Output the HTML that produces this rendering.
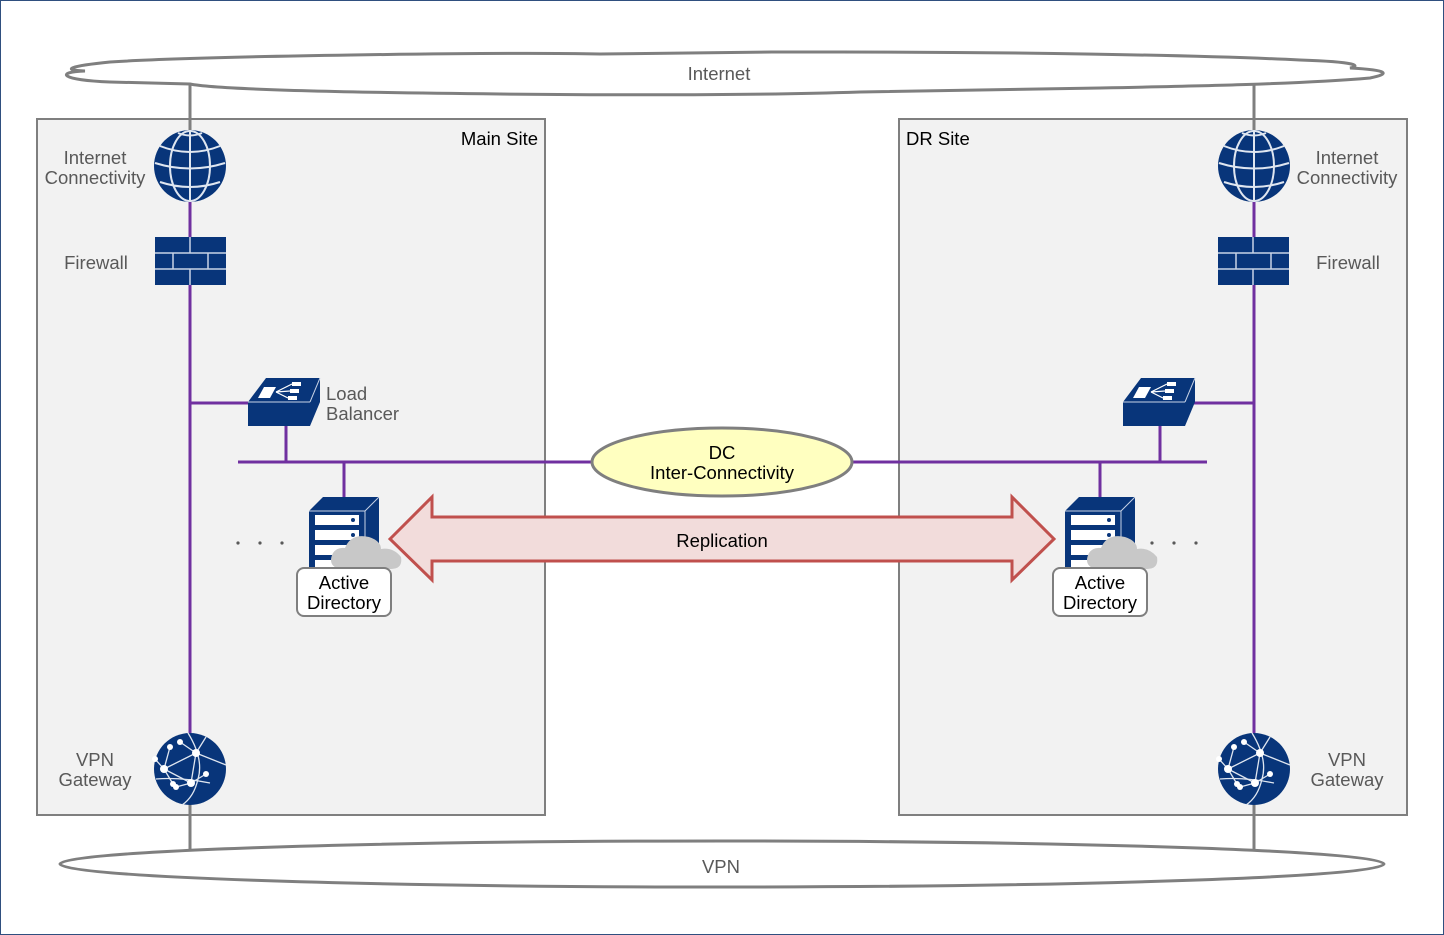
<!DOCTYPE html>
<html><head><meta charset="utf-8"><style>
html,body{margin:0;padding:0;background:#fff}
svg{display:block}
text{font-family:"Liberation Sans",sans-serif}
</style></head><body>
<svg width="1444" height="935" viewBox="0 0 1444 935" xmlns="http://www.w3.org/2000/svg">
<defs>
<g id="globe">
<circle r="36" fill="#08357a"/>
<g fill="none" stroke="#dfe6f0" stroke-width="2">
<line x1="0" y1="-36" x2="0" y2="36"/>
<ellipse rx="20" ry="35"/>
<path d="M-30,-20 Q0,-8 30,-20"/>
<path d="M-35,-3 Q0,8 35,-3"/>
<path d="M-30,16 Q0,26 30,16"/>
<path d="M-12,-33 Q0,-28 12,-33"/>
</g>
</g>
<g id="fw">
<rect x="0" y="0" width="71" height="48" fill="#08357a"/>
<g stroke="#c8d3e6" stroke-width="1.5">
<line x1="0" y1="16" x2="71" y2="16"/><line x1="0" y1="32" x2="71" y2="32"/>
<line x1="35" y1="0" x2="35" y2="16"/><line x1="18" y1="16" x2="18" y2="32"/><line x1="53" y1="16" x2="53" y2="32"/><line x1="35" y1="32" x2="35" y2="48"/>
</g>
</g>
<g id="lb">
<polygon points="18,0 72,0 72,24 62,48 0,48 0,24" fill="#08357a"/>
<line x1="0" y1="24" x2="62" y2="24" stroke="#c8d3e6" stroke-width="1"/>
<line x1="62" y1="24" x2="72" y2="0" stroke="#c8d3e6" stroke-width="1"/>
<polygon points="10,20 16,9 28,9 22,20" fill="#fff"/>
<g stroke="#fff" stroke-width="1.2"><line x1="28" y1="14" x2="44" y2="6"/><line x1="28" y1="14" x2="42" y2="13"/><line x1="28" y1="14" x2="40" y2="20"/></g>
<g fill="#fff"><rect x="44" y="4" width="9" height="4"/><rect x="42" y="11" width="9" height="4"/><rect x="40" y="18" width="9" height="4"/></g>
</g>
<g id="srv">
<polygon points="0,14 14,0 70,0 70,64 56,78 0,78" fill="#08357a"/>
<line x1="56" y1="14" x2="70" y2="0" stroke="#c8d3e6"/>
<line x1="56" y1="14" x2="56" y2="78" stroke="#c8d3e6"/>
<line x1="0" y1="14" x2="56" y2="14" stroke="#c8d3e6"/>
<g fill="#fff"><rect x="6" y="18" width="44" height="10"/><rect x="6" y="33" width="44" height="10"/><rect x="6" y="48" width="44" height="10"/><rect x="6" y="63" width="44" height="10"/></g>
<g fill="#08357a"><circle cx="44" cy="23" r="2"/><circle cx="44" cy="38" r="2"/><circle cx="44" cy="53" r="2"/></g>
<path d="M30,72 Q18,68 24,56 Q28,50 36,51 Q42,36 60,40 Q72,44 72,52 Q84,50 92,60 Q94,72 82,72 Z" fill="#c8c8c8"/>
</g>
<g id="vpn">
<circle r="36" fill="#08357a"/>
<g stroke="#dfe6f0" stroke-width="1.3" fill="none">
<line x1="-35" y1="-10" x2="-26" y2="0"/><line x1="-26" y1="0" x2="-20" y2="-22"/><line x1="-26" y1="0" x2="-17" y2="15"/>
<line x1="-26" y1="0" x2="6" y2="-16"/><line x1="-26" y1="0" x2="1" y2="14"/><line x1="-10" y1="-27" x2="6" y2="-16"/>
<line x1="6" y1="-16" x2="1" y2="14"/><line x1="1" y1="14" x2="16" y2="5"/><line x1="1" y1="14" x2="-14" y2="18"/>
<line x1="6" y1="-16" x2="36" y2="-4"/><line x1="6" y1="-16" x2="16" y2="-32"/><path d="M-2,-36 Q14,-10 8,10 Q4,28 -8,36"/>
<path d="M-34,10 Q-10,8 20,14"/>
</g>
<g fill="#fff"><circle cx="-26" cy="0" r="4"/><circle cx="6" cy="-16" r="4"/><circle cx="1" cy="14" r="4"/><circle cx="-20" cy="-22" r="3"/><circle cx="-10" cy="-27" r="3"/><circle cx="-17" cy="15" r="3"/><circle cx="16" cy="5" r="3"/><circle cx="-14" cy="18" r="3"/><circle cx="-35" cy="-10" r="3"/></g>
</g>
</defs>
<rect x="0.5" y="0.5" width="1443" height="934" fill="#fff" stroke="#2f4f7f" stroke-width="1"/>
<path d="M190,84 L110,82 C60,80 55,72 85,71 C60,70 70,66 110,62 C200,56 500,52 600,54 L772,52 L840,52 C1000,52 1200,55 1300,60 C1360,62 1360,66 1350,68 C1390,70 1390,74 1370,78 C1300,84 1200,86 1100,88 L860,92 C800,94 700,96 500,94 C300,92 210,88 190,84 Z" fill="#fff" stroke="#7f7f7f" stroke-width="3"/>
<text x="719" y="80" font-size="18.5" fill="#595959" text-anchor="middle">Internet</text>
<ellipse cx="722" cy="864" rx="662" ry="23" fill="#fff" stroke="#7f7f7f" stroke-width="3"/>
<text x="721" y="873" font-size="18.5" fill="#595959" text-anchor="middle">VPN</text>
<rect x="37" y="119" width="508" height="696" fill="#f2f2f2" stroke="#7f7f7f" stroke-width="2"/>
<rect x="899" y="119" width="508" height="696" fill="#f2f2f2" stroke="#7f7f7f" stroke-width="2"/>
<text x="538" y="145" font-size="18.5" fill="#000" text-anchor="end">Main Site</text>
<text x="906" y="145" font-size="18.5" fill="#000">DR Site</text>
<g stroke="#7f7f7f" stroke-width="3">
<line x1="190" y1="84" x2="190" y2="135"/><line x1="1254" y1="84" x2="1254" y2="135"/>
<line x1="190" y1="800" x2="190" y2="850"/><line x1="1254" y1="800" x2="1254" y2="850"/>
</g>
<g stroke="#7030a0" stroke-width="3" fill="none">
<line x1="190" y1="200" x2="190" y2="740"/><line x1="1254" y1="200" x2="1254" y2="740"/>
<line x1="190" y1="403" x2="252" y2="403"/><line x1="1190" y1="403" x2="1254" y2="403"/>
<line x1="238" y1="462" x2="595" y2="462"/><line x1="850" y1="462" x2="1207" y2="462"/>
<line x1="286" y1="424" x2="286" y2="462"/><line x1="1160" y1="424" x2="1160" y2="462"/>
<line x1="344" y1="462" x2="344" y2="498"/><line x1="1100" y1="462" x2="1100" y2="498"/>
</g>
<use href="#globe" x="190" y="166"/><use href="#globe" x="1254" y="166"/>
<use href="#fw" x="155" y="237"/><use href="#fw" x="1218" y="237"/>
<use href="#lb" x="248" y="378"/><use href="#lb" x="1123" y="378"/>
<use href="#srv" x="309" y="497"/><use href="#srv" x="1065" y="497"/>
<use href="#vpn" x="190" y="769"/><use href="#vpn" x="1254" y="769"/>
<g font-size="18.5" fill="#595959">
<text x="95" y="164" text-anchor="middle">Internet</text><text x="95" y="184" text-anchor="middle">Connectivity</text>
<text x="1347" y="164" text-anchor="middle">Internet</text><text x="1347" y="184" text-anchor="middle">Connectivity</text>
<text x="96" y="269" text-anchor="middle">Firewall</text><text x="1348" y="269" text-anchor="middle">Firewall</text>
<text x="326" y="400">Load</text><text x="326" y="420">Balancer</text>
<text x="95" y="766" text-anchor="middle">VPN</text><text x="95" y="786" text-anchor="middle">Gateway</text>
<text x="1347" y="766" text-anchor="middle">VPN</text><text x="1347" y="786" text-anchor="middle">Gateway</text>
</g>
<g fill="#595959"><circle cx="238" cy="543" r="1.6"/><circle cx="260" cy="543" r="1.6"/><circle cx="282" cy="543" r="1.6"/><circle cx="1152" cy="543" r="1.6"/><circle cx="1174" cy="543" r="1.6"/><circle cx="1196" cy="543" r="1.6"/></g>
<rect x="297" y="568" width="94" height="48" rx="7" fill="#fff" stroke="#7f7f7f" stroke-width="2"/>
<rect x="1053" y="568" width="94" height="48" rx="7" fill="#fff" stroke="#7f7f7f" stroke-width="2"/>
<g font-size="18.5" fill="#000" text-anchor="middle">
<text x="344" y="589">Active</text><text x="344" y="609">Directory</text>
<text x="1100" y="589">Active</text><text x="1100" y="609">Directory</text>
</g>
<ellipse cx="722" cy="462" rx="130" ry="34" fill="#ffffc0" stroke="#7f7f7f" stroke-width="3"/>
<text x="722" y="459" font-size="18.5" fill="#000" text-anchor="middle">DC</text>
<text x="722" y="479" font-size="18.5" fill="#000" text-anchor="middle">Inter-Connectivity</text>
<polygon points="390,539 432,497 432,517 1012,517 1012,497 1054,539 1012,580 1012,561 432,561 432,580" fill="#f2dcdb" stroke="#c0504d" stroke-width="3"/>
<text x="722" y="547" font-size="18.5" fill="#000" text-anchor="middle">Replication</text>
</svg>
</body></html>
